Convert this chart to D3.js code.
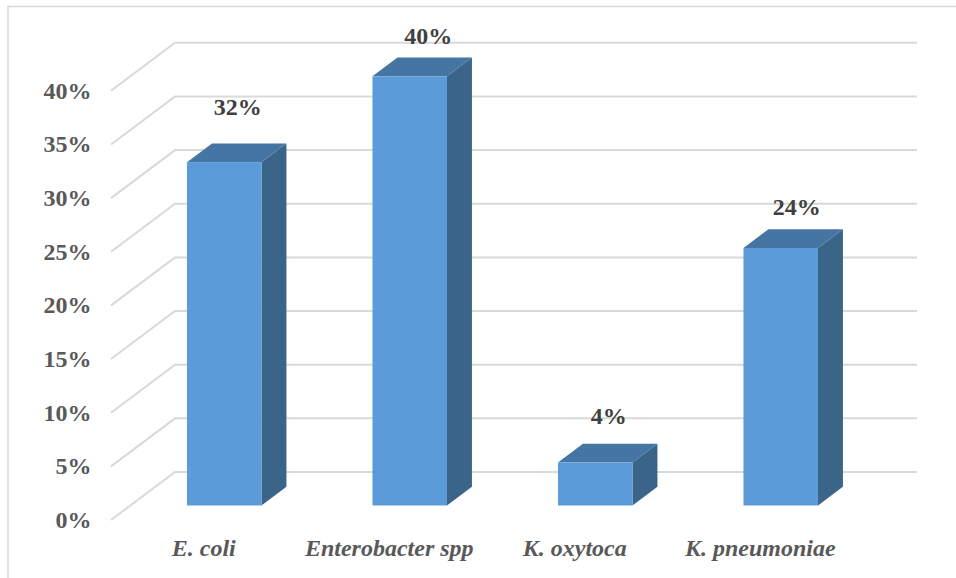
<!DOCTYPE html>
<html>
<head>
<meta charset="utf-8">
<script src="https://cdn.jsdelivr.net/npm/d3@7"></script>
<style>
  html, body { margin: 0; padding: 0; background: #fff; }
  svg { display: block; }
  text { font-family: "Liberation Serif", serif; font-weight: bold; }
</style>
</head>
<body>
<svg id="chart" width="956" height="578"></svg>
<script>
// Isolates by organism, in percent
const categories = ["E. coli", "Enterobacter spp", "K. oxytoca", "K. pneumoniae"];
const values = [32, 40, 4, 24];
const tickValues = [0, 5, 10, 15, 20, 25, 30, 35, 40];

const svg = d3.select("#chart");

// Oblique projection: the floor recedes up and to the right
const depthX = 64, depthY = 48;
const y = d3.scaleLinear().domain([0, 40]).range([520, 90.8]);
const x = d3.scaleBand().domain(categories).range([111, 853]);

// Bars stand part-way into the floor and occupy part of its depth
const barWidth = 74.5;
const barNear = 0.32, barFar = 0.71;

// Hand placement of the value labels relative to each top face
const labelLift = [36, 22, 28, 22];
const labelShift = [1, 6, 1, 3.5];

// Outer frame, open at the right and bottom edges
svg.append("path")
  .attr("d", d3.line()([[8, 578], [8, 6.5], [956, 6.5]]))
  .attr("fill", "none").attr("stroke", "#d9d9d9").attr("stroke-width", 1.5);

// Gridlines: side-wall diagonal plus back-wall horizontal
const grid = svg.append("g").attr("fill", "none")
  .attr("stroke", "#d9d9d9").attr("stroke-width", 2);
grid.selectAll("path").data(tickValues).join("path")
  .attr("d", d => d3.line()([
    [x.range()[0], y(d)],
    [x.range()[0] + depthX, y(d) - depthY],
    [x.range()[1] + depthX, y(d) - depthY]
  ]));

// Value axis labels
svg.append("g").selectAll("text").data(tickValues).join("text")
  .attr("x", 91.5).attr("y", d => y(d) + 8)
  .attr("text-anchor", "end")
  .attr("font-size", 24).attr("fill", "#595959")
  .text(d => d + "%");

// Category labels
svg.append("g").selectAll("text").data(categories).join("text")
  .attr("x", d => x(d) + x.bandwidth() / 2).attr("y", 556)
  .attr("text-anchor", "middle")
  .attr("font-size", 24).attr("font-style", "italic").attr("fill", "#595959")
  .text(d => d);

// Bars as three visible faces of a box
const rows = categories.map((c, i) => ({ c, v: values[i], lift: labelLift[i], shift: labelShift[i] }));
const bars = svg.append("g").selectAll("g").data(rows).join("g");
const line = d3.line();
const fx = d => x(d.c) + x.bandwidth() / 2 - barWidth / 2 + barNear * depthX;
const base = 14.5;
const dx = (barFar - barNear) * depthX, dy = (barFar - barNear) * depthY;

// Side face
bars.append("path").attr("fill", "#3a6488")
  .attr("d", d => line([
    [fx(d) + barWidth, y(0) - base],
    [fx(d) + barWidth + dx, y(0) - base - dy],
    [fx(d) + barWidth + dx, y(d.v) - base - dy],
    [fx(d) + barWidth, y(d.v) - base]
  ]) + "Z");
// Top face
bars.append("path").attr("fill", "#4575a2")
  .attr("d", d => line([
    [fx(d), y(d.v) - base],
    [fx(d) + dx, y(d.v) - base - dy],
    [fx(d) + barWidth + dx, y(d.v) - base - dy],
    [fx(d) + barWidth, y(d.v) - base]
  ]) + "Z");
// Front face
bars.append("rect").attr("fill", "#5b9bd9")
  .attr("x", fx).attr("y", d => y(d.v) - base)
  .attr("width", barWidth).attr("height", d => y(0) - y(d.v));

// Value labels above each bar
bars.append("text")
  .attr("x", d => fx(d) + barWidth / 2 + dx / 2 + d.shift)
  .attr("y", d => y(d.v) - base - dy - d.lift + 8)
  .attr("text-anchor", "middle")
  .attr("font-size", 24).attr("fill", "#404040")
  .text(d => d.v + "%");
</script>
</body>
</html>
